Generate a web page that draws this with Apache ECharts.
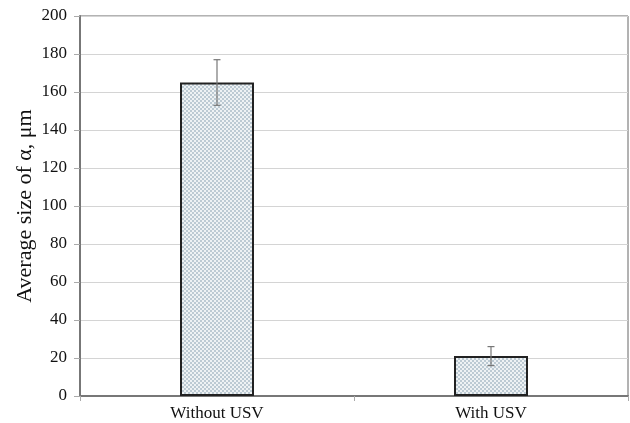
<!DOCTYPE html>
<html>
<head>
<meta charset="utf-8">
<script src="https://cdn.jsdelivr.net/npm/echarts@6/dist/echarts.min.js"></script>
<style>
  html, body { margin: 0; padding: 0; background: #fff; }
  #chart { width: 630px; height: 423px; }
</style>
</head>
<body>
<div id="chart"></div>
<script>
// Average α grain size with and without ultrasonic vibration (USV)
const categories = ['Without USV', 'With USV'];
const sizes = [165, 21];
const errors = [12, 5];
const yTicks = { min: 0, max: 200, interval: 20 };

// Light blue-gray checkered fill for the bars
function checkerPattern() {
  const c = document.createElement('canvas');
  c.width = 4; c.height = 4;
  const ctx = c.getContext('2d');
  ctx.fillStyle = '#eef2f4';
  ctx.fillRect(0, 0, 4, 4);
  ctx.fillStyle = '#bccad3';
  ctx.fillRect(0, 0, 2, 2);
  ctx.fillRect(2, 2, 2, 2);
  return c;
}

const chart = echarts.init(document.getElementById('chart'), null, { renderer: 'canvas' });
const serif = '"Liberation Serif", "Times New Roman", serif';

chart.setOption({
  animation: false,
  backgroundColor: '#fff',
  grid: {
    left: 80, right: 2, top: 16, bottom: 27,
    show: true, borderColor: '#666', borderWidth: 1
  },
  xAxis: {
    type: 'category',
    data: categories,
    axisLine: { lineStyle: { color: '#777', width: 2 } },
    axisTick: { show: true, length: 5, lineStyle: { color: '#aaa' } },
    axisLabel: { color: '#111', fontFamily: serif, fontSize: 17, margin: 9 }
  },
  yAxis: {
    type: 'value',
    min: yTicks.min, max: yTicks.max, interval: yTicks.interval,
    name: 'Average size of α, μm',
    nameLocation: 'middle',
    nameGap: 44,
    nameMoveOverlap: false,
    nameTextStyle: { color: '#111', fontFamily: serif, fontSize: 22 },
    axisLine: { show: true, lineStyle: { color: '#777', width: 2 } },
    axisTick: { show: true, length: 6, lineStyle: { color: '#aaa' } },
    axisLabel: { color: '#111', fontFamily: serif, fontSize: 17, margin: 13 },
    splitLine: { show: true, lineStyle: { color: '#d4d4d4', width: 1 } }
  },
  series: [
    {
      type: 'bar',
      data: sizes,
      barWidth: 74,
      itemStyle: {
        color: { image: checkerPattern(), repeat: 'repeat' },
        borderColor: '#222',
        borderWidth: 2
      },
      z: 2
    },
    {
      type: 'custom',
      z: 3,
      data: sizes.map((v, i) => [i, v - errors[i], v + errors[i]]),
      renderItem: function (params, api) {
        const lo = api.coord([api.value(0), api.value(1)]);
        const hi = api.coord([api.value(0), api.value(2)]);
        const half = 3.5;
        const style = { stroke: '#777', lineWidth: 1.2 };
        return {
          type: 'group',
          children: [
            { type: 'line', shape: { x1: lo[0], y1: lo[1], x2: hi[0], y2: hi[1] }, style: style },
            { type: 'line', shape: { x1: hi[0] - half, y1: hi[1], x2: hi[0] + half, y2: hi[1] }, style: style },
            { type: 'line', shape: { x1: lo[0] - half, y1: lo[1], x2: lo[0] + half, y2: lo[1] }, style: style }
          ]
        };
      }
    }
  ]
});
</script>
</body>
</html>
